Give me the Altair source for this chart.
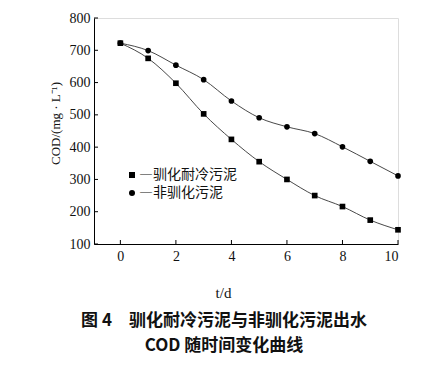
import altair as alt
import pandas as pd

days = list(range(11))
acclimated = [722, 675, 598, 503, 424, 355, 300, 250, 216, 174, 144]
non_acclimated = [722, 699, 654, 609, 543, 491, 463, 442, 401, 356, 311]
series_names = ["驯化耐冷污泥", "非驯化污泥"]
x_ticks = [0, 2, 4, 6, 8, 10]
y_ticks = [100, 200, 300, 400, 500, 600, 700, 800]
x_title = "t/d"
y_title = "COD/(mg · L⁻¹)"
caption = ["图 4　驯化耐冷污泥与非驯化污泥出水", "COD 随时间变化曲线"]

rows = []
for d, v in zip(days, acclimated):
    rows.append({"day": d, "cod": v, "series": series_names[0]})
for d, v in zip(days, non_acclimated):
    rows.append({"day": d, "cod": v, "series": series_names[1]})
df = pd.DataFrame(rows)

W, H = 304, 226
serif = "Liberation Serif"
cjk = "Noto Sans CJK SC"

xscale = alt.Scale(domain=[-0.95, 10], nice=False, zero=False)
yscale = alt.Scale(domain=[100, 800], nice=False, zero=False)

xaxis = alt.Axis(values=x_ticks, grid=False, ticks=False, domainColor="black",
                 labelFont=serif, labelFontSize=14, labelColor="#111", labelPadding=5,
                 title=x_title, titleFont=serif, titleFontSize=15, titleFontWeight="normal",
                 titleColor="#111", titleX=129, titleY=53, titleBaseline="alphabetic")
yaxis = alt.Axis(values=y_ticks, grid=False, ticks=False, domainColor="black",
                 labelFont=serif, labelFontSize=14, labelColor="#111", labelPadding=4,
                 title=y_title, titleFont=serif, titleFontSize=13, titleFontWeight="normal",
                 titleColor="#111", titleX=-39, titleY=105, titleAngle=270,
                 titleAlign="center", titleBaseline="middle")

base = alt.Chart(df)

lines = base.mark_line(color="#333", strokeWidth=0.9, interpolate="monotone").encode(
    x=alt.X("day:Q", scale=xscale, axis=xaxis),
    y=alt.Y("cod:Q", scale=yscale, axis=yaxis),
    detail="series:N",
)

points = base.mark_point(filled=True, color="black", opacity=1, size=32).encode(
    x=alt.X("day:Q", scale=xscale, axis=xaxis),
    y=alt.Y("cod:Q", scale=yscale, axis=yaxis),
    shape=alt.Shape("series:N", sort=series_names,
                    scale=alt.Scale(domain=series_names, range=["square", "circle"]),
                    legend=alt.Legend(title=None, orient="none", legendX=31, legendY=150,
                                      labelFont=cjk, labelFontSize=14, labelColor="#111",
                                      labelExpr="'―' + datum.label", labelOffset=0,
                                      symbolFillColor="black", symbolStrokeColor="black",
                                      symbolSize=36, rowPadding=4)),
)

ytick_rules = alt.Chart(pd.DataFrame({"cod": y_ticks})).mark_rule(color="black", strokeWidth=1).encode(
    y=alt.Y("cod:Q", scale=yscale, axis=yaxis),
    x=alt.value(0), x2=alt.value(4),
)
xtick_rules = alt.Chart(pd.DataFrame({"day": x_ticks})).mark_rule(color="black", strokeWidth=1).encode(
    x=alt.X("day:Q", scale=xscale, axis=xaxis),
    y=alt.value(H), y2=alt.value(H - 4),
)

chart = alt.layer(lines, points, ytick_rules, xtick_rules).properties(
    width=W, height=H,
    autosize=alt.AutoSizeParams(type="none"),
    padding={"left": 86, "top": 10, "right": 42, "bottom": 115},
    title=alt.TitleParams(text=caption, orient="bottom", anchor="middle", dx=-22,
                          offset=13, font=cjk, fontSize=17, fontWeight="bold",
                          color="#111", lineHeight=25, baseline="top"),
).configure_view(stroke=None).configure(background="white")

chart.save("out.html", embed_options={"renderer": "svg", "actions": False})
